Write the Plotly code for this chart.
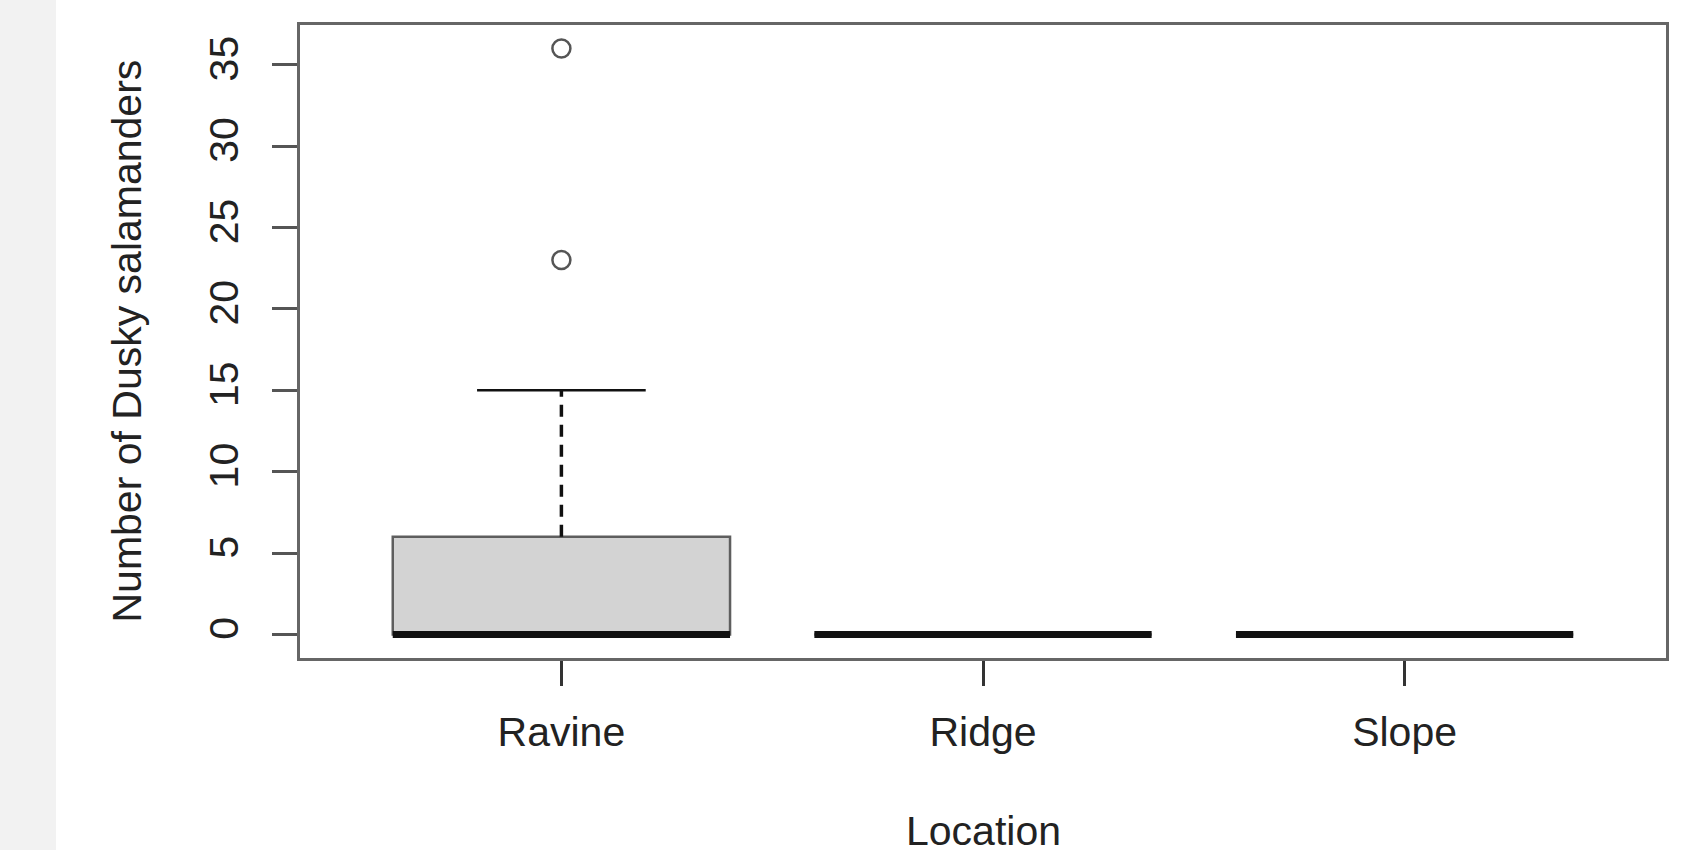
import plotly.graph_objects as go

# ---- data ----
categories = ["Ravine", "Ridge", "Slope"]
q1 = [0, 0, 0]
median = [0, 0, 0]
q3 = [6, 0, 0]
whisker_lo = [0, 0, 0]
whisker_hi = [15, 0, 0]
outlier_location = ["Ravine", "Ravine"]
outlier_values = [23, 36]
y_ticks = [0, 5, 10, 15, 20, 25, 30, 35]

# ---- style constants ----
FONT = "Liberation Sans, Arial, Helvetica, sans-serif"
FS = 41
BOXWEX = 0.8
STAPLE = 0.4
W, H = 1698, 850
ML, MR, MT, MB = 300, 32, 25, 192
PW, PH = W - ML - MR, H - MT - MB

pos = list(range(len(categories)))

fig = go.Figure()

# boxes (no plotly whiskers; R-style whiskers drawn separately)
fig.add_trace(go.Box(
    x=pos, q1=q1, median=median, q3=q3, lowerfence=q1, upperfence=q3,
    width=BOXWEX, fillcolor="#d3d3d3",
    line=dict(color="#5e5e5e", width=2.5), boxpoints=False,
    whiskerwidth=0, showlegend=False, hoverinfo="skip"))

# dashed whiskers
wx, wy = [], []
for p, lo, a, b, hi in zip(pos, whisker_lo, q1, q3, whisker_hi):
    if hi > b:
        wx += [p, p, None]; wy += [b, hi, None]
    if lo < a:
        wx += [p, p, None]; wy += [lo, a, None]
fig.add_trace(go.Scatter(x=wx, y=wy, mode="lines",
                         line=dict(color="#111", width=3.5, dash="12px,8px"),
                         showlegend=False, hoverinfo="skip"))

# staples
sx, sy = [], []
for p, lo, hi in zip(pos, whisker_lo, whisker_hi):
    for v in (lo, hi):
        sx += [p - STAPLE / 2, p + STAPLE / 2, None]; sy += [v, v, None]
fig.add_trace(go.Scatter(x=sx, y=sy, mode="lines",
                         line=dict(color="#111", width=2.5),
                         showlegend=False, hoverinfo="skip"))

# medians (thick)
mx, my = [], []
for p, m in zip(pos, median):
    mx += [p - BOXWEX / 2, p + BOXWEX / 2, None]; my += [m, m, None]
fig.add_trace(go.Scatter(x=mx, y=my, mode="lines",
                         line=dict(color="#111", width=7),
                         showlegend=False, hoverinfo="skip"))

# outliers
fig.add_trace(go.Scatter(
    x=[categories.index(c) for c in outlier_location], y=outlier_values,
    mode="markers",
    marker=dict(symbol="circle-open", size=18, color="#555", line=dict(width=2.5)),
    showlegend=False, hoverinfo="skip"))

n = len(categories)
ymax = max(max(outlier_values), max(whisker_hi))
ymin = min(whisker_lo)
ext = (ymax - ymin) * 0.04
xext = n * 0.04

fig.update_layout(
    width=W, height=H,
    margin=dict(l=ML, r=MR, t=MT, b=MB, pad=0),
    paper_bgcolor="white", plot_bgcolor="white",
    font=dict(family=FONT, size=FS, color="#222"),
    xaxis=dict(range=[-0.5 - xext, n - 0.5 + xext], tickvals=pos, ticktext=categories,
               ticks="outside", ticklen=25, tickwidth=2.5, tickcolor="#333",
               showline=True, mirror=True, linecolor="#666", linewidth=3,
               showgrid=False, zeroline=False, ticklabelstandoff=11),
    yaxis=dict(range=[ymin - ext, ymax + ext], tickvals=y_ticks, tickangle=-90,
               ticks="outside", ticklen=25, tickwidth=2.5, tickcolor="#555",
               showline=True, mirror=True, linecolor="#666", linewidth=3,
               showgrid=False, zeroline=False, ticklabelstandoff=18),
    shapes=[dict(type="rect", xref="paper", yref="paper",
                 x0=-ML / PW - 0.01, x1=(56 - ML) / PW,
                 y0=-(MB + 10) / PH, y1=1 + (MT + 10) / PH,
                 fillcolor="#f2f2f2", line=dict(width=0), layer="below")],
    annotations=[
        dict(text="Number of Dusky salamanders", xref="paper", yref="paper",
             x=(126 - ML) / PW, y=0.5, xanchor="center", yanchor="middle",
             textangle=-90, showarrow=False, font=dict(size=FS, color="#222")),
        dict(text="Location", xref="paper", yref="paper",
             x=0.5, y=-(831 - (MT + PH)) / PH, xanchor="center", yanchor="middle",
             showarrow=False, font=dict(size=FS, color="#222")),
    ],
)

fig.write_html("out.html", config={"displayModeBar": False},
               post_script="document.body.style.margin='0px';")
